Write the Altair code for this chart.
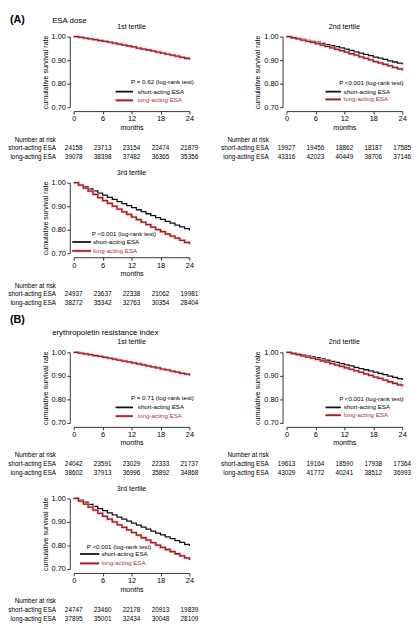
import altair as alt
import pandas as pd

FONT = "Liberation Sans"
RED = "#9e1a22"
PINK = "#efb0b0"

months = list(range(25))
tick_months = [0, 6, 12, 18, 24]
y_ticks = [0.70, 0.80, 0.90, 1.00]
row_names = ["short-acting ESA", "long-acting ESA"]

# ---- survival curves (monthly) ----
a1_short = [1.000, 0.997, 0.994, 0.990, 0.987, 0.984, 0.980, 0.976, 0.972, 0.968, 0.964, 0.960, 0.956,
            0.952, 0.948, 0.944, 0.940, 0.935, 0.931, 0.926, 0.922, 0.918, 0.913, 0.909, 0.904]
a1_long = [1.000, 0.997, 0.993, 0.990, 0.987, 0.983, 0.980, 0.976, 0.972, 0.968, 0.964, 0.960, 0.956,
           0.951, 0.947, 0.943, 0.939, 0.934, 0.930, 0.925, 0.921, 0.917, 0.912, 0.907, 0.903]
a2_short = [1.000, 0.996, 0.992, 0.988, 0.984, 0.980, 0.976, 0.971, 0.966, 0.961, 0.957, 0.952, 0.947,
            0.941, 0.935, 0.930, 0.924, 0.919, 0.913, 0.908, 0.903, 0.897, 0.892, 0.887, 0.881]
a2_long = [1.000, 0.995, 0.990, 0.985, 0.980, 0.975, 0.970, 0.964, 0.958, 0.952, 0.946, 0.940, 0.934,
           0.927, 0.921, 0.914, 0.907, 0.901, 0.894, 0.888, 0.882, 0.876, 0.869, 0.863, 0.856]
a3_short = [1.000, 0.992, 0.983, 0.974, 0.965, 0.956, 0.947, 0.938, 0.929, 0.920, 0.911, 0.903, 0.894,
            0.885, 0.877, 0.868, 0.860, 0.852, 0.844, 0.836, 0.828, 0.820, 0.812, 0.805, 0.797]
a3_long = [1.000, 0.990, 0.977, 0.964, 0.950, 0.937, 0.924, 0.912, 0.900, 0.888, 0.876, 0.865, 0.854,
           0.843, 0.832, 0.822, 0.811, 0.801, 0.792, 0.782, 0.773, 0.764, 0.755, 0.746, 0.738]
b1_short = [1.000, 0.996, 0.993, 0.989, 0.986, 0.983, 0.979, 0.975, 0.971, 0.967, 0.963, 0.959, 0.955,
            0.951, 0.947, 0.943, 0.939, 0.935, 0.930, 0.926, 0.921, 0.917, 0.912, 0.908, 0.903]
b1_long = [1.000, 0.997, 0.993, 0.990, 0.986, 0.983, 0.979, 0.975, 0.971, 0.967, 0.963, 0.959, 0.955,
           0.951, 0.947, 0.942, 0.938, 0.934, 0.929, 0.925, 0.920, 0.916, 0.911, 0.907, 0.902]
b2_short = [1.000, 0.996, 0.992, 0.989, 0.985, 0.981, 0.977, 0.972, 0.967, 0.962, 0.957, 0.952, 0.947,
            0.942, 0.936, 0.931, 0.926, 0.921, 0.916, 0.910, 0.905, 0.899, 0.894, 0.888, 0.882]
b2_long = [1.000, 0.995, 0.990, 0.985, 0.980, 0.975, 0.970, 0.964, 0.958, 0.952, 0.946, 0.940, 0.934,
           0.928, 0.921, 0.915, 0.908, 0.902, 0.895, 0.889, 0.882, 0.875, 0.868, 0.862, 0.855]
b3_short = [1.000, 0.993, 0.984, 0.975, 0.966, 0.957, 0.948, 0.939, 0.930, 0.921, 0.912, 0.904, 0.895,
            0.887, 0.878, 0.870, 0.861, 0.853, 0.845, 0.837, 0.829, 0.821, 0.813, 0.805, 0.798]
b3_long = [1.000, 0.989, 0.976, 0.963, 0.950, 0.937, 0.924, 0.912, 0.900, 0.888, 0.877, 0.866, 0.855,
           0.844, 0.833, 0.823, 0.812, 0.802, 0.792, 0.783, 0.774, 0.765, 0.756, 0.747, 0.738]

# ---- numbers at risk ----
a1_risk_short = [24158, 23713, 23154, 22474, 21879]
a1_risk_long = [39078, 38398, 37482, 36365, 35356]
a2_risk_short = [19927, 19456, 18862, 18187, 17585]
a2_risk_long = [43316, 42023, 40449, 38706, 37146]
a3_risk_short = [24937, 23637, 22338, 21062, 19981]
a3_risk_long = [38272, 35342, 32763, 30354, 28404]
b1_risk_short = [24042, 23591, 23029, 22333, 21737]
b1_risk_long = [38602, 37913, 36996, 35892, 34868]
b2_risk_short = [19613, 19164, 18590, 17938, 17364]
b2_risk_long = [43029, 41772, 40241, 38512, 36993]
b3_risk_short = [24747, 23460, 22178, 20913, 19839]
b3_risk_long = [37895, 35001, 32434, 30048, 28109]

W, H = 118, 72

xs = alt.Scale(domain=[0, 24], nice=False, zero=False)
ys = alt.Scale(domain=[0.7, 1.0], nice=False, zero=False)
XAXIS = alt.Axis(values=tick_months, title="months", offset=4, tickSize=3,
                 labelFlush=False, labelOverlap=False, grid=False,
                 labelPadding=1, titlePadding=1)
YAXIS = alt.Axis(values=y_ticks, format=".2f", title="cumulative survival rate",
                 offset=4, tickSize=3, labelFlush=False, labelOverlap=False,
                 grid=False, labelPadding=1.5, titlePadding=2)


def xf(field):
    return alt.X(field, type="quantitative", scale=xs, axis=XAXIS)


def yf(field):
    return alt.Y(field, type="quantitative", scale=ys, axis=YAXIS)


def xd(v):
    return alt.XDatum(v, type="quantitative", scale=xs, axis=XAXIS)


def yd(v):
    return alt.YDatum(v, type="quantitative", scale=ys, axis=YAXIS)


def panel(short, long_, risk_s, risk_l, title, ptext, leg, extra=()):
    df = pd.DataFrame({"month": months * 2, "surv": short + long_,
                       "grp": ["short"] * 25 + ["long"] * 25})
    base = alt.Chart(df)
    black = base.transform_filter("datum.grp == 'short'").mark_line(
        interpolate="step-after", color="#111111", strokeWidth=1.3).encode(
        x=xf("month"), y=yf("surv"))
    halo = base.transform_filter("datum.grp == 'long'").mark_line(
        interpolate="step-after", color=PINK, strokeWidth=2.6).encode(
        x=xf("month"), y=yf("surv"))
    red = base.transform_filter("datum.grp == 'long'").mark_line(
        interpolate="step-after", color=RED, strokeWidth=1.3).encode(
        x=xf("month"), y=yf("surv"))

    px, py, lx0, lx1, llab, yb, yr = leg
    legend_layers = [
        alt.Chart().mark_text(text=ptext, fontSize=6.3, font=FONT, color="black",
                              align="center", baseline="middle").encode(x=xd(px), y=yd(py)),
        alt.Chart().mark_rule(color="#111111", strokeWidth=1.8).encode(
            x=xd(lx0), x2=alt.X2Datum(lx1), y=yd(yb)),
        alt.Chart().mark_rule(color=PINK, strokeWidth=2.8).encode(
            x=xd(lx0), x2=alt.X2Datum(lx1), y=yd(yr)),
        alt.Chart().mark_rule(color=RED, strokeWidth=1.6).encode(
            x=xd(lx0), x2=alt.X2Datum(lx1), y=yd(yr)),
        alt.Chart().mark_text(text=row_names[0], fontSize=6.3, font=FONT, color="black",
                              align="left", baseline="middle").encode(x=xd(llab), y=yd(yb)),
        alt.Chart().mark_text(text=row_names[1], fontSize=6.3, font=FONT, color="#a8323a",
                              align="left", baseline="middle").encode(x=xd(llab), y=yd(yr)),
    ]

    title_layer = alt.Chart().mark_text(text=title, fontSize=7.2, font=FONT, color="black",
                                        align="center", baseline="middle").encode(
        x=xd(12), y=alt.value(-10))

    rdf = pd.DataFrame({"month": tick_months, "s": risk_s, "l": risk_l})
    rbase = alt.Chart(rdf)
    risk_layers = [
        rbase.mark_text(fontSize=6.5, font=FONT, color="black", baseline="middle").encode(
            x=xf("month"), y=alt.value(H + 42), text=alt.Text("s:Q", format="d")),
        rbase.mark_text(fontSize=6.5, font=FONT, color="black", baseline="middle").encode(
            x=xf("month"), y=alt.value(H + 51), text=alt.Text("l:Q", format="d")),
    ]
    for txt, dy in (("Number at risk", 33), (row_names[0], 42), (row_names[1], 51)):
        risk_layers.append(alt.Chart().mark_text(
            text=txt, fontSize=6.5, font=FONT, color="black", align="right",
            baseline="middle").encode(x=alt.value(-18), y=alt.value(H + dy)))

    extra_layers = []
    for txt, ex, ey, size, weight in extra:
        extra_layers.append(alt.Chart().mark_text(
            text=txt, fontSize=size, fontWeight=weight, font=FONT, color="black",
            align="left", baseline="middle").encode(x=alt.value(ex), y=alt.value(ey)))

    return alt.layer(black, halo, red, *legend_layers, title_layer, *risk_layers,
                     *extra_layers).properties(width=W, height=H)


P_NS1 = "P = 0.62 (log-rank test)"
P_NS2 = "P = 0.71 (log-rank test)"
P_SIG = "P <0.001 (log-rank test)"

leg_left = (18.4, 0.807, 8.7, 12.3, 13.3, 0.766, 0.729)
leg_right = (17.6, 0.803, 8.1, 11.3, 11.9, 0.766, 0.733)
leg_a3 = (10.4, 0.782, -0.3, 3.6, 4.0, 0.748, 0.710)
leg_b3 = (9.4, 0.795, 1.3, 5.3, 5.75, 0.764, 0.724)

A1 = panel(a1_short, a1_long, a1_risk_short, a1_risk_long, "1st tertile", P_NS1, leg_left,
           extra=[("(A)", -65, -17, 11, "bold"), ("ESA dose", -22, -15.5, 8, "normal")])
A2 = panel(a2_short, a2_long, a2_risk_short, a2_risk_long, "2nd tertile", P_SIG, leg_right)
A3 = panel(a3_short, a3_long, a3_risk_short, a3_risk_long, "3rd tertile", P_SIG, leg_a3)
B1 = panel(b1_short, b1_long, b1_risk_short, b1_risk_long, "1st tertile", P_NS2, leg_left,
           extra=[("(B)", -65, -33, 11, "bold"),
                  ("erythropoietin resistance index", -22, -19.5, 8, "normal")])
B2 = panel(b2_short, b2_long, b2_risk_short, b2_risk_long, "2nd tertile", P_SIG, leg_right)
B3 = panel(b3_short, b3_long, b3_risk_short, b3_risk_long, "3rd tertile", P_SIG, leg_b3)

# invisible cell next to A3: a taller cell gives the extra gap before panel (B)
spacer = alt.Chart(pd.DataFrame({"v": [0]})).mark_point(opacity=0, size=0).encode(
    x=alt.value(0), y=alt.value(0)).properties(width=W, height=H + 24)

chart = alt.concat(
    A1, A2, A3, spacer, B1, B2, B3,
    columns=2, spacing={"row": 77, "column": 99}, bounds="flush"
).properties(
    padding={"left": 0, "top": 0, "right": 0, "bottom": 0}
).configure_view(stroke=None).configure_axis(
    labelFont=FONT, titleFont=FONT, labelFontSize=7.5, titleFontSize=7.2,
    titleFontWeight="normal", labelColor="black", titleColor="black",
    domainColor="black", tickColor="black", domainWidth=0.8, tickWidth=0.8
)

chart.save("out.html", embed_options={"renderer": "svg", "actions": False})
